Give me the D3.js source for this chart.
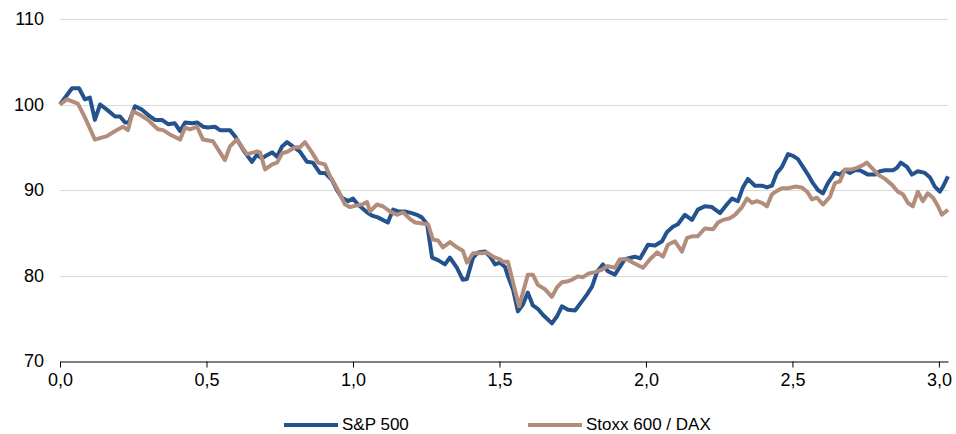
<!DOCTYPE html>
<html>
<head>
<meta charset="utf-8">
<script src="https://cdn.jsdelivr.net/npm/d3@7"></script>
<style>
  html, body { margin: 0; padding: 0; background: #fff; }
  svg { display: block; }
  text { font-family: "Liberation Sans", Arial, sans-serif; fill: #000; }
</style>
</head>
<body>
<svg id="chart" width="956" height="434"></svg>
<script>
// Index level (start = 100) against elapsed time in years
const seriesNames = ["S&P 500", "Stoxx 600 / DAX"];
const seriesColors = ["#24528e", "#b38d7b"];

const spYears = [0,0.041,0.065,0.085,0.102,0.119,0.137,0.160,0.188,0.205,0.222,0.235,0.256,0.280,0.300,0.324,0.348,0.369,0.392,0.410,0.427,0.451,0.468,0.488,0.505,0.529,0.546,0.580,0.597,0.631,0.655,0.672,0.689,0.703,0.724,0.741,0.758,0.775,0.795,0.819,0.843,0.863,0.887,0.904,0.928,0.945,0.962,0.983,1.000,1.017,1.048,1.065,1.085,1.119,1.137,1.154,1.177,1.201,1.218,1.235,1.253,1.270,1.290,1.314,1.331,1.355,1.375,1.389,1.410,1.427,1.451,1.468,1.485,1.502,1.519,1.529,1.546,1.563,1.580,1.597,1.614,1.631,1.648,1.679,1.696,1.713,1.734,1.758,1.782,1.799,1.816,1.833,1.853,1.870,1.894,1.911,1.928,1.962,1.980,2.007,2.031,2.055,2.072,2.092,2.109,2.133,2.157,2.177,2.201,2.225,2.253,2.276,2.294,2.314,2.331,2.348,2.372,2.396,2.413,2.430,2.447,2.464,2.485,2.502,2.519,2.536,2.553,2.570,2.587,2.604,2.621,2.645,2.662,2.679,2.696,2.713,2.730,2.747,2.758,2.782,2.799,2.816,2.843,2.857,2.870,2.891,2.908,2.928,2.952,2.969,2.986,3.003,3.014,3.031];
const spValues = [100,101.9,101.9,100.6,100.8,98.2,100,99.4,98.6,98.6,97.9,97.9,99.8,99.4,98.8,98.2,98.2,97.7,97.8,96.9,97.9,97.8,97.9,97.4,97.3,97.4,97.0,97.0,96.3,94.4,93.3,94.1,93.7,94.0,94.4,93.9,95.1,95.6,95.1,94.5,93.3,93.2,92.0,92.0,91.2,90.0,89.1,88.7,89.0,88.3,87.4,87.0,86.8,86.2,87.7,87.5,87.5,87.3,87.1,86.8,86.0,82.1,81.8,81.3,82.1,80.9,79.5,79.6,82.1,82.7,82.8,82.2,81.3,81.5,81.0,79.9,78.4,75.8,76.6,78.0,76.5,76.1,75.4,74.4,75.2,76.4,76.0,75.9,77.0,77.8,78.7,80.4,81.3,80.5,80.1,81.0,81.9,82.2,82.0,83.6,83.5,84.0,85.1,85.7,86.0,87.1,86.5,87.7,88.1,88.0,87.3,88.3,89.0,88.7,90.3,91.3,90.5,90.5,90.3,90.5,92.0,92.7,94.2,94.0,93.6,92.7,91.8,90.8,90.0,89.6,90.8,92.0,91.8,92.3,92.0,92.3,92.3,92.0,91.8,91.8,92.2,92.3,92.3,92.6,93.2,92.7,91.8,92.2,92.0,91.5,90.4,89.8,90.4,91.6];

const euYears = [0,0.024,0.061,0.085,0.119,0.160,0.188,0.215,0.232,0.249,0.273,0.300,0.334,0.352,0.375,0.410,0.427,0.444,0.468,0.488,0.522,0.546,0.563,0.580,0.604,0.638,0.672,0.683,0.700,0.724,0.741,0.758,0.778,0.802,0.819,0.836,0.860,0.881,0.904,0.922,0.939,0.956,0.973,0.990,1.014,1.031,1.048,1.058,1.082,1.102,1.126,1.150,1.171,1.195,1.212,1.256,1.273,1.290,1.307,1.331,1.355,1.375,1.389,1.410,1.440,1.457,1.478,1.502,1.512,1.529,1.546,1.567,1.580,1.597,1.614,1.631,1.655,1.679,1.696,1.713,1.730,1.747,1.768,1.785,1.802,1.826,1.850,1.870,1.894,1.911,1.935,1.956,1.990,2.014,2.038,2.058,2.075,2.099,2.123,2.140,2.160,2.177,2.201,2.229,2.246,2.263,2.287,2.304,2.328,2.345,2.362,2.379,2.396,2.413,2.430,2.447,2.464,2.485,2.509,2.532,2.550,2.567,2.584,2.604,2.628,2.645,2.662,2.679,2.703,2.720,2.741,2.754,2.771,2.792,2.816,2.840,2.860,2.877,2.894,2.911,2.928,2.945,2.962,2.980,2.997,3.010,3.031];
const euValues = [100,100.6,100.1,98.5,95.9,96.3,96.9,97.4,97.0,99.2,98.8,98.2,97.1,97.0,96.5,95.9,97.3,97.1,97.4,95.9,95.7,94.4,93.5,95.1,95.9,94.2,94.5,94.4,92.4,93.0,93.2,94.3,94.5,95.0,95.0,95.6,94.4,93.2,93.0,91.6,90.6,89.5,88.3,88.0,88.2,88.3,88.6,87.5,88.3,88.1,87.5,87.1,87.4,86.6,86.2,86.0,84.2,84.1,83.3,83.9,83.3,82.9,81.5,82.6,82.6,82.7,82.2,81.9,81.6,81.6,79.2,76.4,78.0,80.1,80.1,78.9,78.4,77.5,78.6,79.2,79.3,79.5,79.9,79.8,80.2,80.4,80.7,81.1,80.9,81.9,81.9,81.5,80.9,81.9,82.7,82.2,83.6,84.0,82.8,84.4,84.6,84.6,85.5,85.4,86.2,86.5,86.7,87.1,88.0,89.0,88.5,88.7,88.5,88.1,89.5,89.9,90.2,90.2,90.4,90.3,89.8,88.9,89.1,88.3,89.2,90.8,91.0,92.4,92.4,92.6,92.9,93.2,92.6,91.8,91.3,90.6,89.8,89.5,88.5,88.1,89.8,88.7,89.6,89.1,88.1,87.1,87.7];

const yTicks = [70, 80, 90, 100, 110];
const xTicks = [0, 0.5, 1.0, 1.5, 2.0, 2.5, 3.0];

const svg = d3.select("#chart");
const plotLeft = 60, plotRight = 948, plotTop = 19, plotBottom = 361;

const x = d3.scaleLinear().domain([0, 3.031]).range([plotLeft, plotRight]);
const y = d3.scaleLinear().domain([70, 110]).range([plotBottom, plotTop]);

const fmtX = v => d3.format(".1f")(v).replace(".", ",");

// horizontal gridlines
svg.append("g")
  .selectAll("line")
  .data(yTicks.filter(t => t > 70))
  .join("line")
  .attr("x1", plotLeft).attr("x2", plotRight)
  .attr("y1", d => Math.round(y(d)) + 0.5).attr("y2", d => Math.round(y(d)) + 0.5)
  .attr("stroke", "#d9d9d9").attr("stroke-width", 1);

// y axis labels (no axis line)
const yAxis = svg.append("g")
  .attr("transform", `translate(${plotLeft - 16},0)`)
  .call(d3.axisLeft(y).tickValues(yTicks).tickSize(0).tickPadding(0));
yAxis.select(".domain").remove();
yAxis.selectAll("text")
  .attr("font-size", 18)
  .attr("font-family", "Liberation Sans, Arial, sans-serif")
  .attr("fill", "#000");

// x axis at the bottom
const xAxis = svg.append("g")
  .attr("transform", `translate(0,${Math.round(y(70)) + 0.5})`)
  .call(d3.axisBottom(x).tickValues(xTicks).tickFormat(fmtX).tickSize(6).tickSizeOuter(0).tickPadding(6));
xAxis.select(".domain").attr("stroke", "#000").attr("stroke-width", 1);
xAxis.selectAll(".tick line").attr("stroke", "#000");
xAxis.selectAll("text")
  .attr("font-size", 18)
  .attr("font-family", "Liberation Sans, Arial, sans-serif")
  .attr("fill", "#000");

// series lines
const line = d3.line().x(d => x(d[0])).y(d => y(d[1]));
const series = [
  d3.zip(spYears, spValues),
  d3.zip(euYears, euValues)
];
svg.append("g")
  .selectAll("path")
  .data(series)
  .join("path")
  .attr("d", line)
  .attr("fill", "none")
  .attr("stroke", (d, i) => seriesColors[i])
  .attr("stroke-width", 4)
  .attr("stroke-linejoin", "round");

// legend
const legendPos = [284, 528];
const lg = svg.append("g");
seriesNames.forEach((name, i) => {
  lg.append("line")
    .attr("x1", legendPos[i]).attr("x2", legendPos[i] + 54)
    .attr("y1", 425).attr("y2", 425)
    .attr("stroke", seriesColors[i]).attr("stroke-width", 4);
  lg.append("text")
    .attr("x", legendPos[i] + 58).attr("y", 430)
    .attr("font-size", 17)
    .text(name);
});
</script>
</body>
</html>
